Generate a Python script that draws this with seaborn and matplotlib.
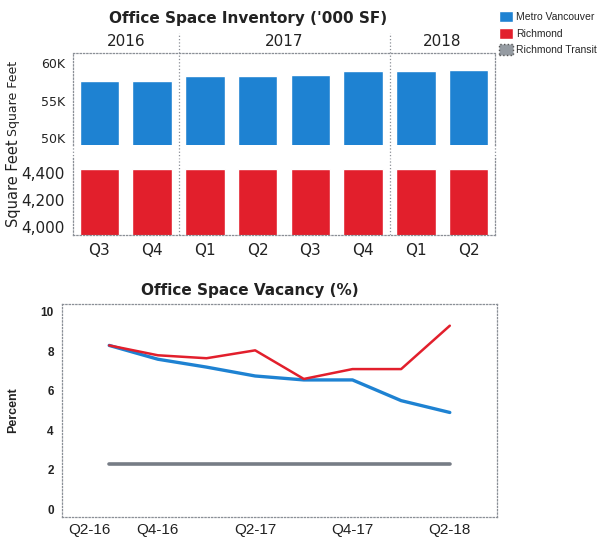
import seaborn as sns
import matplotlib.pyplot as plt
import pandas as pd
from matplotlib.patches import Patch

# quarters shown in both charts
quarters = ['Q3-16', 'Q4-16', 'Q1-17', 'Q2-17', 'Q3-17', 'Q4-17', 'Q1-18', 'Q2-18']
quarter_labels = ['Q3', 'Q4', 'Q1', 'Q2', 'Q3', 'Q4', 'Q1', 'Q2']
years = ['2016', '2017', '2018']
year_span = [(0, 1), (2, 5), (6, 7)]

# inventory ('000 SF)
metro_inventory = [57600, 57600, 58300, 58300, 58400, 59000, 59000, 59100]
richmond_inventory = [4425, 4425, 4425, 4425, 4425, 4425, 4425, 4425]

# vacancy (%)
metro_vacancy = [8.3, 7.6, 7.2, 6.75, 6.55, 6.55, 5.5, 4.9]
richmond_vacancy = [8.3, 7.8, 7.65, 8.05, 6.6, 7.1, 7.1, 9.3]
transit_vacancy = [2.3, 2.3, 2.3, 2.3, 2.3, 2.3, 2.3, 2.3]
vacancy_ticks = [-0.4, 1, 3, 5, 7]
vacancy_tick_labels = ['Q2-16', 'Q4-16', 'Q2-17', 'Q4-17', 'Q2-18']

BLUE = '#1e82d2'
RED = '#e21f2c'
GREY = '#767c85'
DOT = '#8a8f96'

sns.set_theme(style='white')
plt.rcParams['font.family'] = ['DejaVu Sans']

W, H = 603, 539
fig = plt.figure(figsize=(W / 100, H / 100), dpi=100)
ax1 = fig.add_axes([73 / W, 1 - 145 / H, 422 / W, 92 / H])
ax2 = fig.add_axes([73 / W, 1 - 235 / H, 422 / W, 77 / H])
ax3 = fig.add_axes([62 / W, 1 - 517 / H, 435 / W, 213 / H])

# --- inventory bars
sns.barplot(x=quarters, y=metro_inventory, color=BLUE, saturation=1, width=0.75, ax=ax1)
sns.barplot(x=quarters, y=richmond_inventory, color=RED, saturation=1, width=0.75, ax=ax2)

ax1.set_ylim(49100, 61400)
ax1.set_yticks([50000, 55000, 60000])
ax1.set_yticklabels(['50K', '55K', '60K'], fontsize=9, color='#222222')
ax1.set_xticks([])
ax2.set_ylim(3938, 4509)
ax2.set_yticks([4000, 4200, 4400])
ax2.set_yticklabels(['4,000', '4,200', '4,400'], fontsize=11, color='#222222')
ax2.set_xticks(range(len(quarters)))
ax2.set_xticklabels(quarter_labels, fontsize=11, color='#222222')
for ax in (ax1, ax2):
    ax.set_xlim(-0.5, 7.5)
    ax.set_xlabel('')
    ax.set_ylabel('')
    ax.tick_params(length=0, pad=6)
    for s in ax.spines.values():
        s.set_linestyle(':')
        s.set_color(DOT)
        s.set_linewidth(0.9)
ax1.spines['bottom'].set_visible(False)
ax2.spines['top'].set_visible(False)

# dotted year separators and edges through the gap
for x in (-0.5, 7.5):
    ax1.axvline(x, ymin=-0.15, ymax=0, color=DOT, ls=':', lw=0.9, clip_on=False)
for x in (1.5, 5.5):
    ax1.axvline(x, ymin=-0.15, ymax=1.22, color=DOT, ls=':', lw=0.9, clip_on=False)
    ax2.axvline(x, color=DOT, ls=':', lw=0.9)
for yr, (a, b) in zip(years, year_span):
    ax1.text((a + b) / 2, 1.12, yr, transform=ax1.get_xaxis_transform(),
             ha='center', va='center', fontsize=11, color='#222222')

fig.text(248 / W, 1 - 18 / H, "Office Space Inventory ('000 SF)", ha='center', va='center',
         fontsize=11, fontweight='bold', color='#222222')
fig.text(14 / W, 1 - 98 / H, 'Square Feet', rotation=90, ha='center', va='center',
         fontsize=9, color='#222222')
fig.text(14 / W, 1 - 183 / H, 'Square Feet', rotation=90, ha='center', va='center',
         fontsize=10.5, color='#222222')

# --- vacancy lines
pos = list(range(len(quarters)))
sns.lineplot(x=pos, y=transit_vacancy, color=GREY, lw=2.6, ax=ax3)
sns.lineplot(x=pos, y=metro_vacancy, color=BLUE, lw=2.4, ax=ax3)
sns.lineplot(x=pos, y=richmond_vacancy, color=RED, lw=1.8, ax=ax3)
ax3.set_xlim(-0.97, 7.97)
ax3.set_ylim(-0.4, 10.4)
ax3.set_yticks([0, 2, 4, 6, 8, 10])
ax3.set_yticklabels(['0', '2', '4', '6', '8', '10'], family='Liberation Sans',
                    fontsize=8.5, fontweight='bold', color='#222222')
ax3.set_xticks(vacancy_ticks)
ax3.set_xticklabels(vacancy_tick_labels, family='Liberation Sans', fontsize=11,
                    color='#222222')
ax3.tick_params(axis='y', length=0, pad=6)
ax3.tick_params(axis='x', length=0, pad=4)
for s in ax3.spines.values():
    s.set_linestyle(':')
    s.set_color(DOT)
    s.set_linewidth(0.9)

fig.text(250 / W, 1 - 291 / H, 'Office Space Vacancy (%)', ha='center', va='center',
         fontsize=11, fontweight='bold', color='#222222')
fig.text(13 / W, 1 - 410 / H, 'Percent', rotation=90, ha='center', va='center',
         family='Liberation Sans', fontsize=9, fontweight='bold', color='#222222')

# --- legend
handles = [Patch(facecolor=BLUE, label='Metro Vancouver'),
           Patch(facecolor=RED, label='Richmond'),
           Patch(facecolor='#959ba2', edgecolor='#555555', linestyle=':', label='Richmond Transit')]
fig.legend(handles=handles, loc='upper left', bbox_to_anchor=(499 / W, 1 - 11 / H),
           frameon=False, prop={'family': 'Liberation Sans', 'size': 7.5},
           handlelength=1.3, handleheight=1.3, handletextpad=0.35, labelspacing=0.5,
           borderaxespad=0, borderpad=0)

fig.savefig('out.png', dpi=100)
